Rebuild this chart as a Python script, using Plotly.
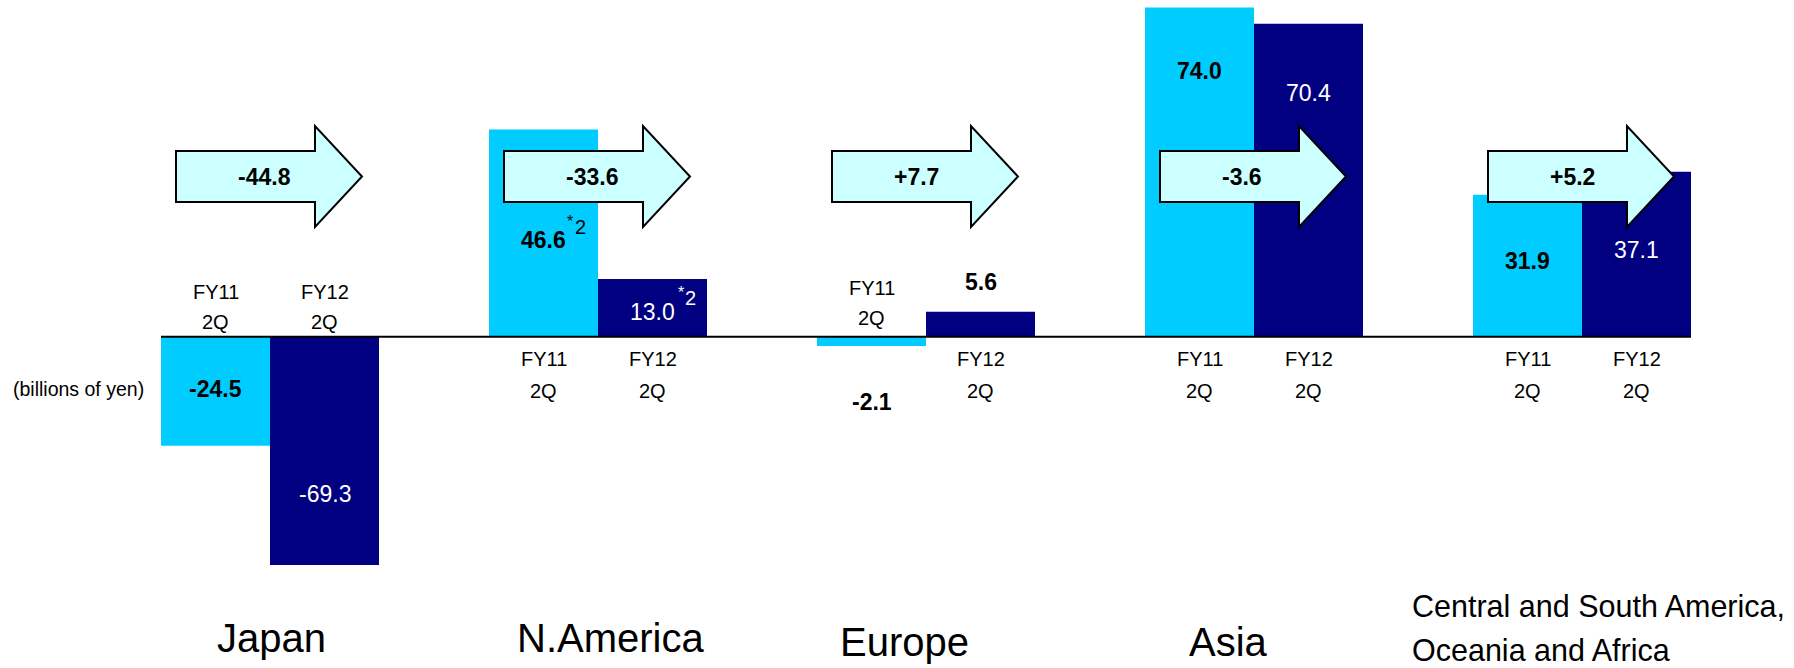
import plotly.graph_objects as go

# Operating income by region, FY11 2Q vs FY12 2Q (billions of yen)
regions = ["Japan", "N.America", "Europe", "Asia",
           "Central and South America,<br>Oceania and Africa"]
period_labels = ["FY11<br>2Q", "FY12<br>2Q"]
fy11 = [-24.5, 46.6, -2.1, 74.0, 31.9]
fy12 = [-69.3, 13.0, 5.6, 70.4, 37.1]
fy11_notes = ["", "*2", "", "", ""]
fy12_notes = ["", "*2", "", "", ""]

# vertical placement of the value labels (axis units)
fy11_label_y = [-11.8, 21.7, -14.6, 59.8, 17.1]
fy12_label_y = [-35.4, 5.5, 12.3, 54.9, 19.5]

# layout of the region names: x nudge (px), anchor, text middle (px from top)
region_label_dx = [1, 12, -22, -26, -172]
region_label_anchor = ["center", "center", "center", "center", "left"]
region_label_mid = [[638.3], [638.3], [642], [642], [605.8, 650.3]]
region_label_size = [40, 40, 40, 40, 30.5]
# extra lift (px) of the period labels sitting above the baseline
period_lift = [0, 0, 4, 0, 0]

LIGHT = "#00CCFF"
DARK = "#000080"
ARROW_FILL = "#CCFFFF"
FONT = "Liberation Sans, Arial, sans-serif"

W, H = 1794, 668
PX_X = 328.0     # pixels per region step
PX_Y = 4.447     # pixels per billion yen
ZERO_PX = 336.7  # baseline position from the top
PLOT_H = 565
BAR_W = 109 / PX_X
X_RANGE = [-270 / PX_X, -270 / PX_X + W / PX_X]
Y_RANGE = [-(PLOT_H - ZERO_PX) / PX_Y, ZERO_PX / PX_Y]

n = len(regions)
xs = list(range(n))
x11 = [i - BAR_W / 2 for i in xs]
x12 = [i + BAR_W / 2 for i in xs]

fig = go.Figure()
fig.add_trace(go.Bar(x=x11, y=fy11, width=BAR_W, marker=dict(color=LIGHT, line=dict(width=0)),
                     name="FY11 2Q", hoverinfo="skip"))
fig.add_trace(go.Bar(x=x12, y=fy12, width=BAR_W, marker=dict(color=DARK, line=dict(width=0)),
                     name="FY12 2Q", hoverinfo="skip"))

shapes = []
annotations = []


def px2y(py):
    return (ZERO_PX - py) / PX_Y


# baseline
shapes.append(dict(type="line", xref="x", yref="y",
                   x0=x11[0] - BAR_W / 2, x1=x12[-1] + BAR_W / 2, y0=0, y1=0,
                   line=dict(color="black", width=2), layer="above"))

# change arrows (FY12 - FY11), geometry in pixels relative to the region centre
body_top, body_bot = px2y(151), px2y(202)
head_top, head_bot = px2y(126), px2y(227)
tip_y = px2y(176.5)

for i in xs:
    left = i - 94 / PX_X
    base = i + 45 / PX_X
    tip = i + 92 / PX_X
    path = (f"M {left},{body_top} L {base},{body_top} L {base},{head_top} "
            f"L {tip},{tip_y} L {base},{head_bot} L {base},{body_bot} "
            f"L {left},{body_bot} Z")
    shapes.append(dict(type="path", xref="x", yref="y", path=path,
                       fillcolor=ARROW_FILL, line=dict(color="black", width=2),
                       layer="above"))
    diff = fy12[i] - fy11[i]
    annotations.append(dict(x=i - 34 / PX_X, y=tip_y, xref="x", yref="y",
                            text=f"<b>{diff:+.1f}</b>", showarrow=False,
                            xanchor="left", yanchor="middle",
                            font=dict(family=FONT, size=23, color="black")))

# value labels, footnote marks and period labels
for vals, xpos, label_y, notes, colour, period, note_pos in (
        (fy11, x11, fy11_label_y, fy11_notes, "black", period_labels[0],
         [(21, 19, 16), (29, 13.5, 20)]),
        (fy12, x12, fy12_label_y, fy12_notes, "white", period_labels[1],
         [(23, 20, 16), (30.5, 14, 20)])):
    for i in xs:
        v = vals[i]
        inside = (v >= 0 and label_y[i] <= v) or (v < 0 and label_y[i] >= v)
        col = colour if inside else "black"
        txt = f"{v:.1f}"
        if col == "black":
            txt = f"<b>{txt}</b>"
        annotations.append(dict(x=xpos[i], y=label_y[i], xref="x", yref="y",
                                text=txt, showarrow=False,
                                xanchor="center", yanchor="middle",
                                font=dict(family=FONT, size=23, color=col)))
        if notes[i]:
            # footnote marker: small raised asterisk followed by the number
            for part, (dx, dy, size) in zip((notes[i][0], notes[i][1:]), note_pos):
                annotations.append(dict(x=xpos[i], y=label_y[i], xref="x", yref="y",
                                        text=part, showarrow=False,
                                        xanchor="left", yanchor="middle",
                                        xshift=dx, yshift=dy,
                                        font=dict(family=FONT, size=size, color=col)))
        lines = period.split("<br>")
        if v >= 0:
            offsets = [22, 54]
        else:
            offsets = [-45 - period_lift[i], -15 - period_lift[i]]
        for line, off in zip(lines, offsets):
            annotations.append(dict(x=xpos[i], y=0, xref="x", yref="y",
                                    text=line, showarrow=False,
                                    xanchor="center", yanchor="middle", yshift=-off,
                                    font=dict(family=FONT, size=20, color="black")))

# region names under the chart
for i in xs:
    for line, mid in zip(regions[i].split("<br>"), region_label_mid[i]):
        annotations.append(dict(x=i, y=0, xref="x", yref="paper",
                                yshift=PLOT_H - mid,
                                text=line, showarrow=False,
                                xanchor=region_label_anchor[i], yanchor="middle",
                                xshift=region_label_dx[i],
                                font=dict(family=FONT, size=region_label_size[i],
                                          color="black")))

# unit note
annotations.append(dict(x=0, y=px2y(389), xref="paper", yref="y", xshift=11,
                        text="(billions of yen)", showarrow=False,
                        xanchor="left", yanchor="middle",
                        font=dict(family=FONT, size=19.5, color="black")))

fig.update_layout(
    width=W, height=H,
    margin=dict(l=0, r=0, t=0, b=H - PLOT_H),
    paper_bgcolor="white", plot_bgcolor="white",
    barmode="overlay", showlegend=False,
    xaxis=dict(range=X_RANGE, visible=False, fixedrange=True),
    yaxis=dict(range=Y_RANGE, visible=False, fixedrange=True),
    shapes=shapes, annotations=annotations,
)

fig.write_html("out.html")
